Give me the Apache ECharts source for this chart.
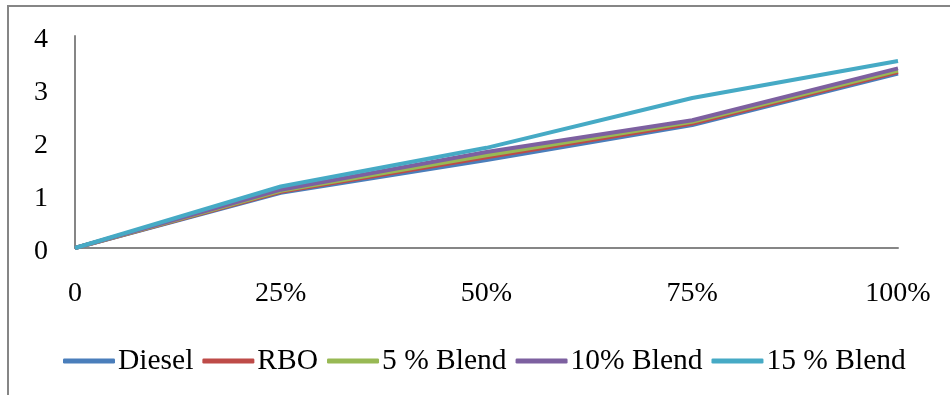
<!DOCTYPE html>
<html>
<head>
<meta charset="utf-8">
<script src="https://cdn.jsdelivr.net/npm/echarts@6/dist/echarts.min.js"></script>
<style>
  html, body { margin: 0; padding: 0; background: #fff; }
  #chart { width: 950px; height: 395px; }
</style>
</head>
<body>
<div id="chart"></div>
<script>
// Load levels along the x axis
const categories = ['0', '25%', '50%', '75%', '100%'];
const yTicks = [0, 1, 2, 3, 4];

// Measured values per fuel
const diesel  = [0, 1.04, 1.66, 2.32, 3.29];
const rbo     = [0, 1.06, 1.71, 2.35, 3.32];
const blend5  = [0, 1.08, 1.75, 2.38, 3.35];
const blend10 = [0, 1.10, 1.81, 2.41, 3.39];
const blend15 = [0, 1.16, 1.89, 2.83, 3.53];

const seriesNames = ['Diesel', 'RBO', '5 % Blend', '10% Blend', '15 % Blend'];
const seriesData = [diesel, rbo, blend5, blend10, blend15];
const colors = ['#4a7ebb', '#be4b48', '#98b954', '#7d60a0', '#46aac5'];

const font = '"Liberation Serif", "Times New Roman", serif';

const chart = echarts.init(document.getElementById('chart'));
chart.setOption({
  animation: false,
  color: colors,
  textStyle: { fontFamily: font },
  grid: { left: 75, right: 52, top: 36, bottom: 147, containLabel: false },
  graphic: [{
    type: 'rect',
    shape: { x: 8, y: 6, width: 1000, height: 500 },
    style: { fill: 'none', stroke: '#868686', lineWidth: 2 },
    silent: true,
    z: -1
  }],
  legend: {
    left: 63,
    top: 346,
    padding: 0,
    icon: 'roundRect',
    itemWidth: 52,
    itemHeight: 5,
    itemGap: 9,
    data: seriesNames,
    textStyle: { fontFamily: font, fontSize: 29.5, color: '#000', padding: [0, 0, 0, -2] }
  },
  xAxis: {
    type: 'category',
    data: categories,
    boundaryGap: false,
    axisLine: { lineStyle: { color: '#868686', width: 2 } },
    axisTick: { show: false },
    axisLabel: { color: '#000', fontSize: 28, fontFamily: font, margin: 32 },
    splitLine: { show: false }
  },
  yAxis: {
    type: 'value',
    min: yTicks[0],
    max: yTicks[yTicks.length - 1],
    interval: 1,
    axisLine: { show: true, lineStyle: { color: '#868686', width: 2 } },
    axisTick: { show: false },
    axisLabel: {
      color: '#000', fontSize: 28, fontFamily: font, margin: 27,
      formatter: '{v|{value}}',
      rich: { v: { fontSize: 28, fontFamily: font, padding: [8, 0, 0, 0] } }
    },
    splitLine: { show: false }
  },
  series: seriesData.map((d, i) => ({
    name: seriesNames[i],
    type: 'line',
    data: d,
    showSymbol: false,
    symbol: 'none',
    lineStyle: { width: 4, color: colors[i] },
    itemStyle: { color: colors[i] },
    z: 2 + i
  }))
});
</script>
</body>
</html>
